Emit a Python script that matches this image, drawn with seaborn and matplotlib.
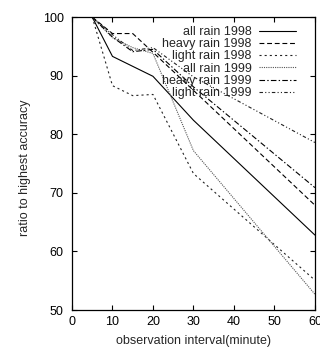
import pandas as pd
import matplotlib
matplotlib.use("Agg")
import matplotlib.pyplot as plt
import seaborn as sns

# data
interval = [5, 10, 15, 20, 30, 60]
all_1998 = [100, 93.3, 91.6, 89.9, 82.4, 62.8]
heavy_1998 = [100, 97.2, 97.2, 94.0, 87.5, 67.9]
light_1998 = [100, 88.3, 86.6, 86.8, 73.3, 55.1]
all_1999 = [100, 96.5, 94.8, 93.8, 77.2, 52.7]
heavy_1999 = [100, 96.6, 94.1, 94.5, 88.1, 70.9]
light_1999 = [100, 97.0, 94.3, 94.8, 89.8, 78.6]

series = {
    "all rain 1998": all_1998,
    "heavy rain 1998": heavy_1998,
    "light rain 1998": light_1998,
    "all rain 1999": all_1999,
    "heavy rain 1999": heavy_1999,
    "light rain 1999": light_1999,
}

rows = []
for name, vals in series.items():
    for x, y in zip(interval, vals):
        rows.append({"interval": x, "ratio": y, "series": name})
df = pd.DataFrame(rows)

sns.set_style("ticks")
plt.rcParams["font.family"] = ["Liberation Sans", "DejaVu Sans"]
plt.rcParams["lines.scale_dashes"] = False
plt.rcParams["font.size"] = 9

palette = {
    "all rain 1998": "black",
    "heavy rain 1998": "black",
    "light rain 1998": "#222222",
    "all rain 1999": "#555555",
    "heavy rain 1999": "black",
    "light rain 1999": "#222222",
}
dashes = {
    "all rain 1998": "",
    "heavy rain 1998": (3.5, 2),
    "light rain 1998": (1.5, 2.2),
    "all rain 1999": (0.8, 0.8),
    "heavy rain 1999": (4, 1.6, 1, 1.6),
    "light rain 1999": (2.5, 1.6, 0.8, 1.6, 0.8, 1.6),
}

fig = plt.figure(figsize=(3.2, 3.47), dpi=100)
ax = fig.add_axes([0.225, 0.1066, 0.759, 0.844])

sns.lineplot(data=df, x="interval", y="ratio", hue="series", style="series",
             palette=palette, dashes=dashes, linewidth=0.8, ax=ax)

ax.set_xlim(0, 60)
ax.set_ylim(50, 100)
ax.set_xticks(range(0, 61, 10))
ax.set_yticks(range(50, 101, 10))
ax.tick_params(direction="in", top=True, right=True, length=3.6, width=0.8,
               labelsize=9, colors="black")
ax.tick_params(axis="y", pad=6)
ax.tick_params(axis="x", pad=4)
for s in ax.spines.values():
    s.set_linewidth(0.9)
    s.set_color("black")

ax.set_xlabel("observation interval(minute)", fontsize=9)
ax.set_ylabel("ratio to highest accuracy", fontsize=9)
ax.xaxis.set_label_coords(0.5, -0.085)
ax.yaxis.set_label_coords(-0.17, 0.485)

handles, labels = ax.get_legend_handles_labels()
ax.legend(handles, labels, loc="upper right", frameon=False, markerfirst=False,
          fontsize=9, handlelength=3.0, handletextpad=0.6, labelspacing=0.02,
          borderaxespad=0.3, bbox_to_anchor=(0.96, 1.0))

fig.savefig("out.png", dpi=100)
